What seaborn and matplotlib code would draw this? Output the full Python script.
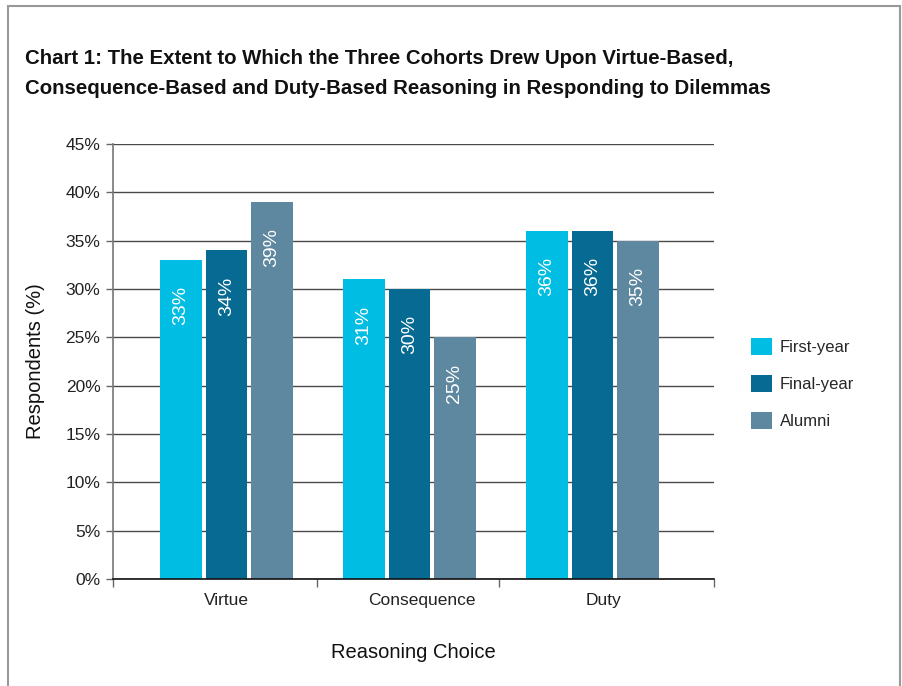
import matplotlib
matplotlib.use("Agg")
import matplotlib.pyplot as plt
from matplotlib.patches import Rectangle
import seaborn as sns
import pandas as pd

categories = ["Virtue", "Consequence", "Duty"]
cohorts = ["First-year", "Final-year", "Alumni"]
first_year = [33, 31, 36]
final_year = [34, 30, 36]
alumni = [39, 25, 35]
colors = ["#00BDE3", "#066A93", "#5E87A0"]
y_ticks = [0, 5, 10, 15, 20, 25, 30, 35, 40, 45]

df = pd.DataFrame({
    "Reasoning": categories * 3,
    "Cohort": [c for c in cohorts for _ in categories],
    "Value": first_year + final_year + alumni,
})

sns.set_theme(style="white")
plt.rcParams["font.family"] = ["Liberation Sans", "DejaVu Sans"]

fig = plt.figure(figsize=(9.03, 6.86), dpi=100)
ax = fig.add_axes([113 / 903, 1 - 579 / 686, (714 - 113) / 903, (579 - 144) / 686])

sns.barplot(data=df, x="Reasoning", y="Value", hue="Cohort", order=categories,
            hue_order=cohorts, palette=colors, width=0.746, gap=0.09,
            saturation=1, linewidth=0, ax=ax, legend=True)

ax.set_ylim(0, 45)
ax.set_xlim(-0.62, 2.664)
ax.set_yticks(y_ticks)
ax.set_yticklabels([f"{v}%" for v in y_ticks], fontsize=12.5, color="#222222")
ax.yaxis.grid(True, color="#4a4a4a", linewidth=1.0)
ax.set_axisbelow(True)

# x ticks sit between the groups; labels centred under each group
ax.set_xticks([-0.62, 0.495, 1.489, 2.664])
ax.set_xticklabels([])
ax.set_xticks([0, 1.07, 2.06], minor=True)
ax.set_xticklabels(categories, minor=True, fontsize=12.5, color="#222222")
ax.tick_params(axis="x", which="major", direction="out", length=6, width=1, color="#666666", bottom=True)
ax.tick_params(axis="x", which="minor", length=0, pad=10)
ax.tick_params(axis="y", direction="out", length=5, width=1, color="#666666", left=True, pad=4)

for s in ["top", "right"]:
    ax.spines[s].set_visible(False)
ax.spines["left"].set_color("#777777")
ax.spines["left"].set_linewidth(1.2)
ax.spines["bottom"].set_color("#111111")
ax.spines["bottom"].set_linewidth(1.2)

ax.set_xlabel("Reasoning Choice", fontsize=14.5, color="#111111", labelpad=25)
ax.set_ylabel("Respondents (%)", fontsize=14.5, color="#111111", labelpad=15)

# value labels inside the bars, rotated, near the top
for container in ax.containers:
    for bar in container:
        h = bar.get_height()
        ax.text(bar.get_x() + bar.get_width() / 2, h - 4.75, f"{h:.0f}%",
                rotation=90, ha="center", va="center", color="white", fontsize=14)

leg = ax.legend(loc="center left", bbox_to_anchor=(1.061, 0.45), frameon=False,
                fontsize=12, handlelength=1.26, handleheight=1.2,
                labelspacing=1.2, handletextpad=0.5, borderaxespad=0, borderpad=0,
                title=None)

fig.text(25 / 903, 1 - 59 / 686,
         "Chart 1: The Extent to Which the Three Cohorts Drew Upon Virtue-Based,",
         fontsize=14.7, fontweight="bold", color="#111111", va="center", ha="left")
fig.text(25 / 903, 1 - 89 / 686,
         "Consequence-Based and Duty-Based Reasoning in Responding to Dilemmas",
         fontsize=14.7, fontweight="bold", color="#111111", va="center", ha="left")

fig.patches.append(Rectangle((8 / 903, -0.05), (900 - 8) / 903, 1.05 - 6 / 686,
                             transform=fig.transFigure, fill=False,
                             edgecolor="#999999", linewidth=1.5))

fig.savefig("out.png", dpi=100)
